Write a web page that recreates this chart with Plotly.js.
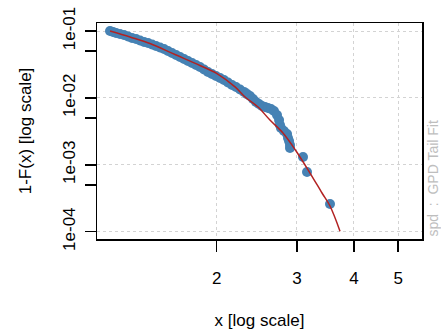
<!DOCTYPE html>
<html>
<head>
<meta charset="utf-8">
<script src="https://cdn.plot.ly/plotly-3.0.1.min.js"></script>
<style>html,body{margin:0;padding:0;background:#fff;}#chart{width:441px;height:333px;}</style>
</head>
<body>
<div id="chart"></div>
<script>
// Empirical tail points (x, 1-F(x))
const xEmp = [1.167,1.185,1.203,1.227,1.252,1.278,1.304,1.331,1.358,1.386,1.414,1.443,1.472,1.502,1.533,1.564,1.596,1.629,1.662,1.696,1.730,1.766,1.802,1.838,1.876,1.914,1.953,1.993,2.034,2.075,2.117,2.161,2.205,2.250,2.296,2.331,2.366,2.403,2.439,2.476,2.514,2.553,2.591,2.631,2.671,2.712,2.740,2.753,2.767,2.809,2.853,2.867,2.882,2.896,2.896,3.093,3.156,3.544];
const yEmp = [0.1,0.0966,0.0933,0.0902,0.0871,0.0828,0.0786,0.0759,0.0721,0.0685,0.0662,0.0629,0.0597,0.0567,0.0538,0.0502,0.0469,0.0438,0.0409,0.0382,0.0356,0.0332,0.0310,0.0290,0.0266,0.0244,0.0228,0.0213,0.0198,0.0185,0.0170,0.0156,0.0146,0.0134,0.0123,0.0114,0.0107,0.00963,0.00868,0.00811,0.00757,0.00731,0.00706,0.00682,0.00637,0.00555,0.00467,0.00393,0.00355,0.00320,0.00289,0.00252,0.00227,0.00198,0.00178,0.00131,0.000781,0.000259];
// GPD fitted tail curve
const xFit = [1.167,1.291,1.428,1.620,1.838,2.003,2.194,2.308,2.464,2.617,2.795,2.986,3.204,3.404,3.544,3.728];
const yFit = [0.1,0.0813,0.0650,0.0445,0.0305,0.0231,0.0146,0.01032,0.00731,0.00467,0.00299,0.00161,0.000754,0.000379,0.000242,0.000102];
// Axis ticks
const xTickVals = [2,3,4,5];
const xTickText = ["2","3","4","5"];
const yTickVals = [1e-1,1e-2,1e-3,1e-4];
const yTickText = ["1e-01","1e-02","1e-03","1e-04"];
const yMinorVals = [5e-2,5e-3,5e-4];

const font = {family: "Liberation Sans, Arial, sans-serif", size: 17, color: "#000"};

const traces = [
  {x: xEmp, y: yEmp, type: "scatter", mode: "markers",
   marker: {color: "#4682B4", size: 10, line: {width: 0}}, hoverinfo: "skip"},
  {x: xFit, y: yFit, type: "scatter", mode: "lines",
   line: {color: "#B22222", width: 1.5, shape: "spline"}, hoverinfo: "skip"}
];

const layout = {
  width: 441, height: 333,
  margin: {l: 97, r: 19, t: 23, b: 94},
  paper_bgcolor: "#fff", plot_bgcolor: "#fff",
  showlegend: false,
  font: font,
  xaxis: {
    type: "log", range: [0.0385, 0.7513],
    tickmode: "array", tickvals: xTickVals, ticktext: xTickText,
    ticks: "outside", ticklen: 11, tickwidth: 1.5, tickcolor: "#000",
    ticklabelstandoff: 12,
    showline: true, linecolor: "#000", linewidth: 1.5, mirror: true,
    showgrid: true, gridcolor: "#d3d3d3", gridwidth: 1, griddash: "3px,3px",
    zeroline: false,
    title: {text: "x [log scale]", font: font, standoff: 27}
  },
  yaxis: {
    type: "log", range: [-4.109, -0.880],
    tickmode: "array", tickvals: yTickVals, ticktext: yTickText, tickangle: -90,
    ticks: "outside", ticklen: 11, tickwidth: 1.5, tickcolor: "#000",
    ticklabelstandoff: 3,
    minor: {tickmode: "array", tickvals: yMinorVals, ticks: "outside", ticklen: 11, tickwidth: 1.5, tickcolor: "#000", showgrid: false},
    showline: true, linecolor: "#000", linewidth: 1.5, mirror: true,
    showgrid: true, gridcolor: "#d3d3d3", gridwidth: 1, griddash: "3px,3px",
    zeroline: false,
    title: {text: "1-F(x) [log scale]", font: font, standoff: 24}
  },
  annotations: [
    {text: "spd  :  GPD Tail Fit", xref: "paper", yref: "paper", x: 1.031, y: 0,
     xanchor: "center", yanchor: "bottom", textangle: -90, showarrow: false,
     font: {family: "Liberation Sans, Arial, sans-serif", size: 14, color: "#bebebe"}}
  ]
};

Plotly.newPlot("chart", traces, layout, {displayModeBar: false, staticPlot: true});
</script>
</body>
</html>
